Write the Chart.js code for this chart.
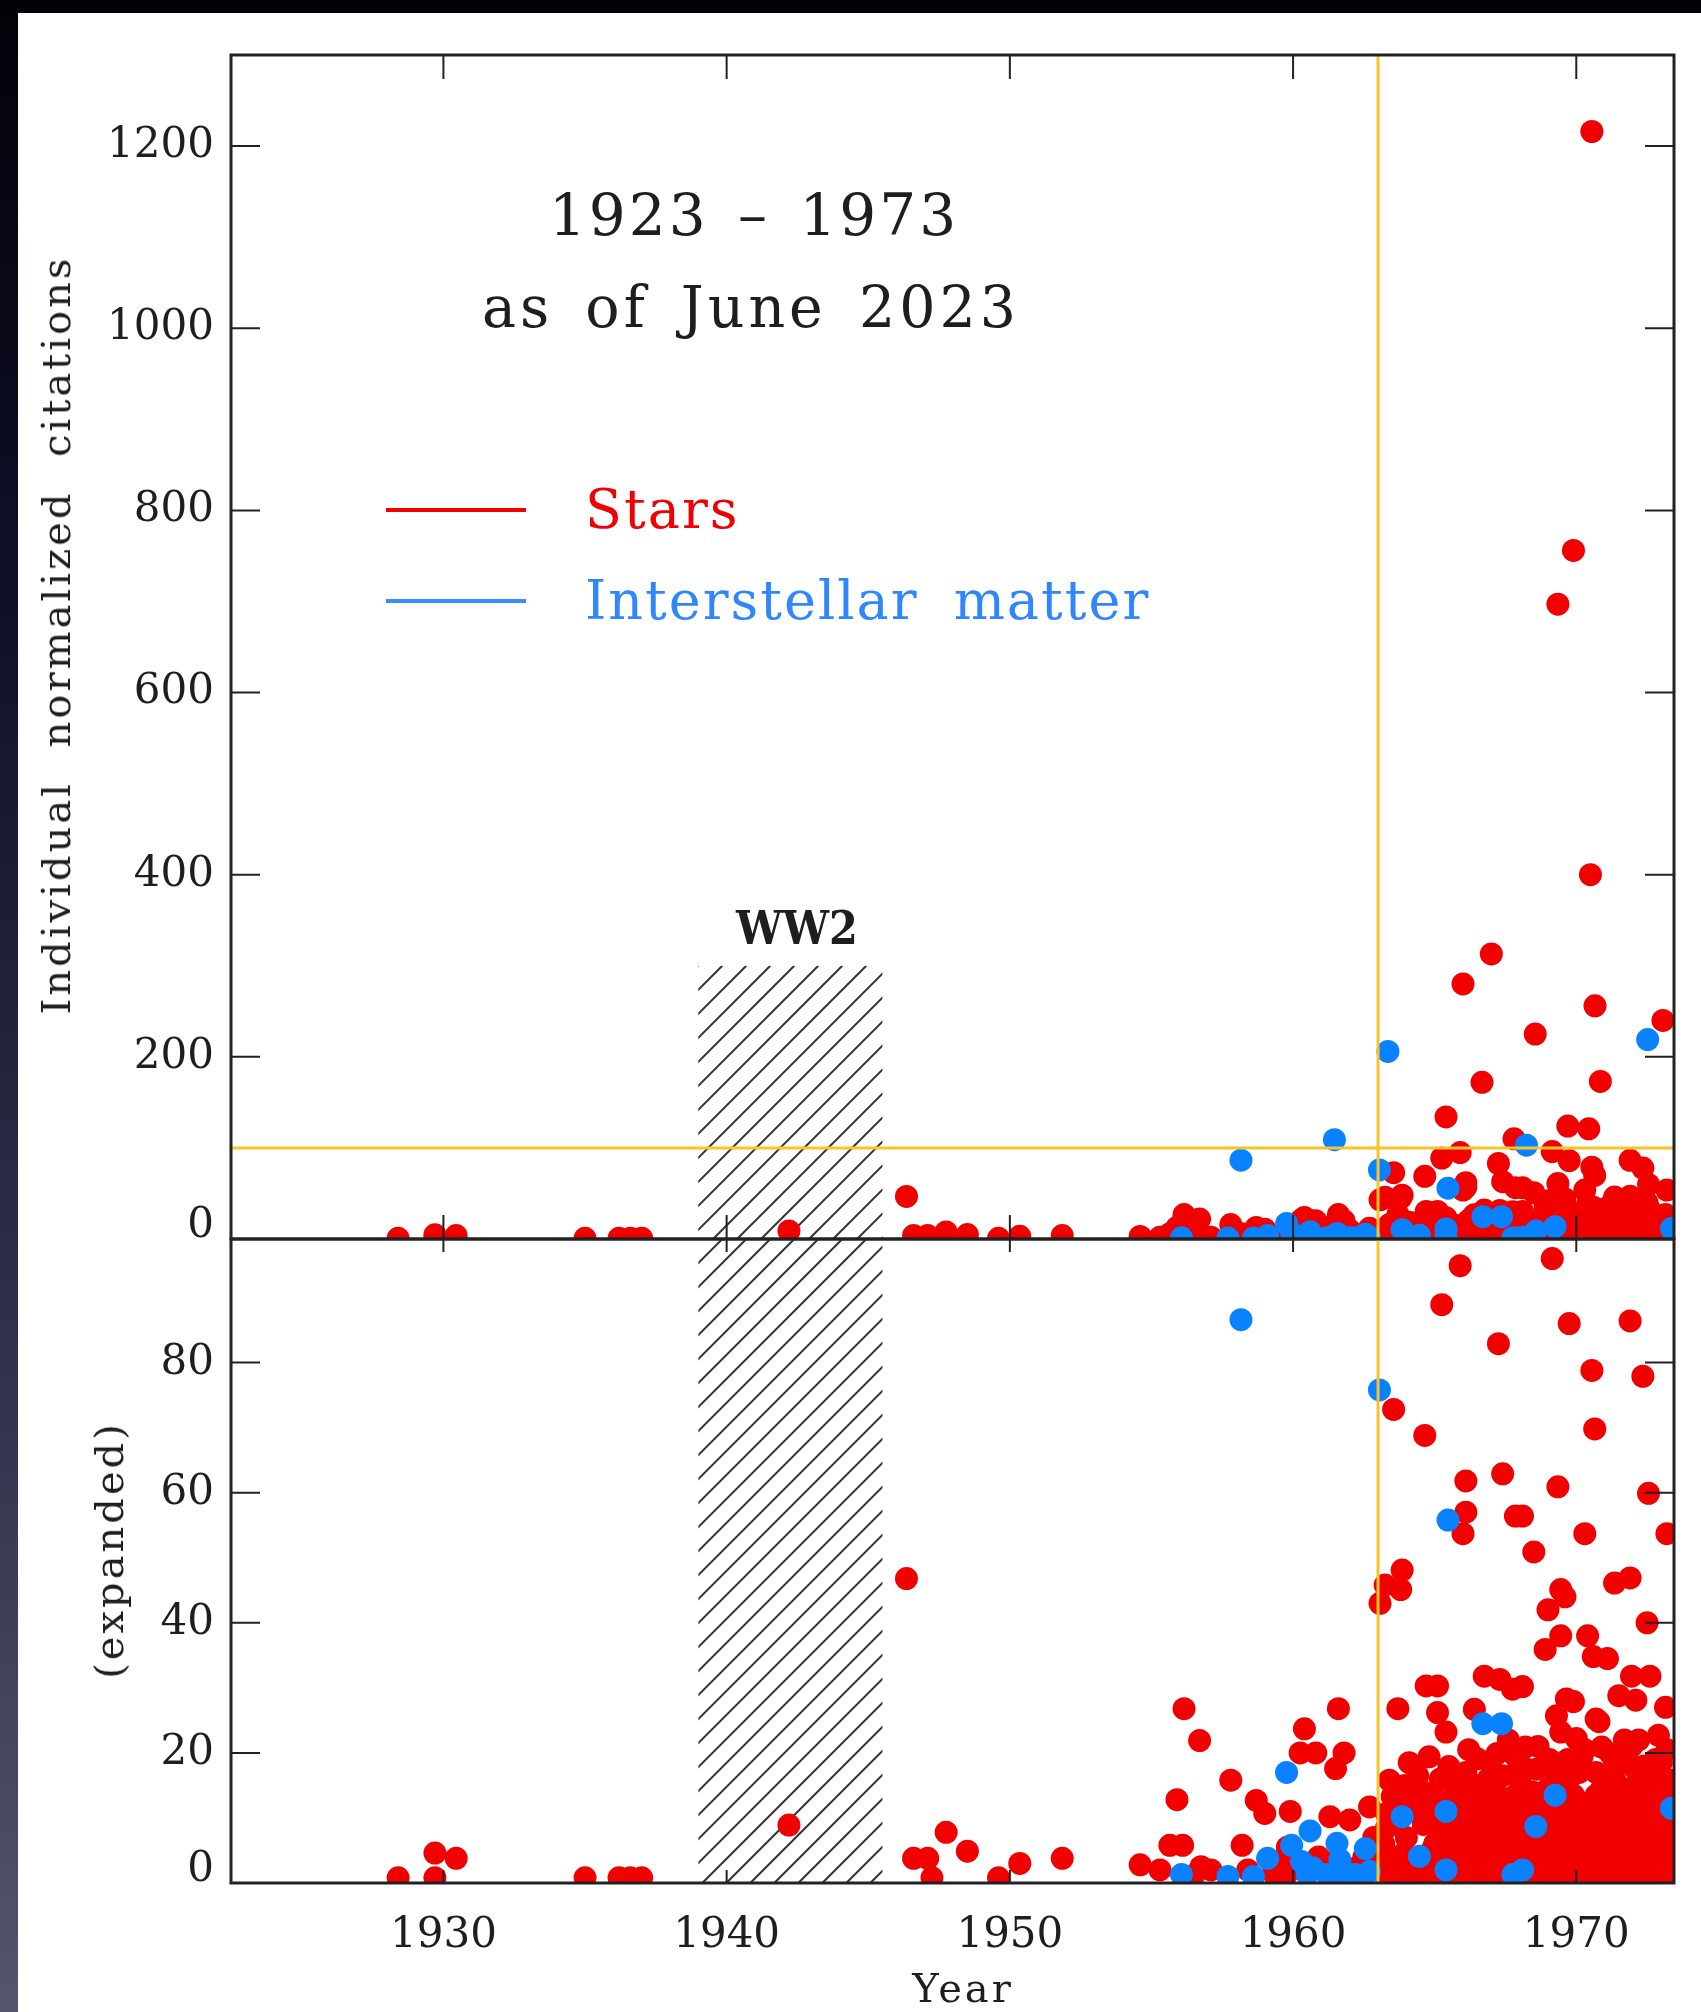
<!DOCTYPE html>
<html>
<head>
<meta charset="utf-8">
<title>Individual normalized citations, 1923 - 1973</title>
<script src="https://cdn.jsdelivr.net/npm/chart.js@4.4.0/dist/chart.umd.min.js"></script>
<style>
  html, body { margin: 0; padding: 0; }
  body {
    width: 1701px; height: 2012px; overflow: hidden; position: relative;
    background: linear-gradient(to bottom, #020208 0%, #10102a 30%, #33334f 70%, #55556c 100%);
    font-family: "DejaVu Serif", serif;
  }
  #sheet { position: absolute; left: 18px; top: 13px; right: 0; bottom: 0; background: #fff; }
  canvas { position: absolute; left: 0; }
  #topChart { top: 0; }
  #bottomChart { top: 1190px; }
  .txt { position: absolute; white-space: nowrap; line-height: 1; color: #1e1e1e; }
  .mid { transform: translate(-50%, -50%); }
  .rot { transform: translate(-50%, -50%) rotate(-90deg); }
  .key { position: absolute; height: 4px; width: 140px; left: 386px; }
</style>
</head>
<body>
<div id="sheet"></div>
<canvas id="topChart" width="1701" height="1260"></canvas>
<canvas id="bottomChart" width="1701" height="822"></canvas>

<div class="txt mid" style="left:754px; top:215px; font-size:58px; letter-spacing:3px; word-spacing:8px;">1923 – 1973</div>
<div class="txt mid" style="left:751px; top:307px; font-size:57px; letter-spacing:4px; word-spacing:10px;">as of June 2023</div>

<div class="key" style="top:508px; background:#f00000;"></div>
<div class="key" style="top:599px; background:#3b8dff;"></div>
<div class="txt" style="left:585px; top:510px; transform:translateY(-50%); font-size:54px; letter-spacing:2px; color:#f00000;">Stars</div>
<div class="txt" style="left:585px; top:601px; transform:translateY(-50%); font-size:54px; letter-spacing:2px; word-spacing:16px; color:#2f86ff;">Interstellar matter</div>

<div class="txt mid" style="left:797px; top:928px; font-size:46px; font-weight:bold; font-stretch:condensed;">WW2</div>

<div class="txt rot" style="left:56px; top:635px; font-size:40px; letter-spacing:3px; word-spacing:18px;">Individual normalized citations</div>
<div class="txt rot" style="left:109px; top:1550px; font-size:40px; letter-spacing:3px;">(expanded)</div>
<div class="txt mid" style="left:963px; top:1988px; font-size:40px; letter-spacing:3px;">Year</div>

<script>
// axis ranges and ticks
const yearMin = 1922.5;
const yearMax = 1973.45;
const yearTicks = [1930, 1940, 1950, 1960, 1970];
const topMax = 1300;
const topTicks = [0, 200, 400, 600, 800, 1000, 1200];
const bottomMax = 99;
const bottomTicks = [0, 20, 40, 60, 80];

// marked years and levels
const ww2Years = [1939.0, 1945.5];
const ww2TopLevel = 300;
const markYear = 1963;
const markLevel = 100;

const starsColor = "#f20000";
const ismColor = "#0a82ff";
const markColor = "#f7c42a";

// [year, normalized citations] per paper
const starsPoints = [
  [1928.4, 0.8], [1929.7, 0.8], [1929.7, 4.6], [1930.45, 3.8], [1935.0, 0.8],
  [1936.2, 0.8], [1936.6, 0.8], [1937.0, 0.8], [1942.2, 8.9],
  [1946.35, 46.8], [1946.6, 3.8], [1947.1, 3.8], [1947.25, 0.8], [1947.75, 7.8],
  [1948.5, 4.9], [1949.6, 0.8], [1950.35, 3.0], [1951.85, 3.8],
  [1954.6, 2.8], [1955.3, 2.0], [1955.65, 5.8], [1955.9, 12.8], [1956.1, 5.8],
  [1956.15, 26.8], [1956.5, 1.2], [1956.7, 21.9], [1956.75, 2.5], [1957.1, 2.0],
  [1957.8, 15.8], [1958.2, 5.8], [1958.4, 2.0], [1958.7, 12.7], [1959.0, 10.7],
  [1959.3, 1.5], [1959.6, 3.5], [1959.8, 5.5], [1959.8, 1.5], [1959.9, 11.0],
  [1960.25, 20.0], [1960.4, 23.7], [1960.4, 2.5], [1960.8, 20.0], [1960.9, 4.0],
  [1961.25, 1.5], [1961.3, 10.2], [1961.3, 3.0], [1961.5, 17.6], [1961.6, 26.8],
  [1961.8, 20.0], [1961.9, 2.0], [1962.0, 9.7], [1962.3, 2.5], [1962.5, 4.0],
  [1962.7, 11.7], [1962.85, 7.0], [1962.9, 3.0], [1963.0, 5.0], [1963.3, 8.5],
  [1963.07, 43.0], [1963.25, 45.8], [1963.8, 45.1], [1963.85, 48.1], [1963.55, 72.8],
  [1963.7, 26.8], [1963.4, 15.8], [1963.5, 13.3], [1963.3, 10.7], [1963.65, 9.0],
  [1963.2, 6.0], [1963.5, 3.5], [1963.3, 0.8], [1963.9, 1.0], [1964.0, 7.0],
  [1964.2, 12.5], [1964.4, 16.5], [1964.1, 18.5], [1963.6, 1.8], [1964.1, 3.0],
  [1964.5, 0.5], [1963.9, 4.5], [1963.75, 12.5], [1964.5, 10.5],
  [1963.95, 15.0], [1964.75, 12.0],
  [1964.65, 68.8], [1964.7, 30.3], [1965.1, 30.3], [1965.1, 26.2], [1965.4, 23.2],
  [1964.6, 14.0], [1964.8, 19.4], [1964.6, 9.0], [1964.9, 5.0], [1964.7, 1.5],
  [1964.3, 1.0],
  [1965.25, 88.9], [1965.4, 134], [1965.2, 16.0], [1965.1, 11.5], [1965.3, 8.0],
  [1965.2, 3.0], [1965.5, 17.9], [1965.6, 13.0], [1965.7, 6.5], [1965.6, 0.8],
  [1965.9, 94.9], [1966.0, 280], [1966.1, 61.8], [1966.1, 57.0], [1966.0, 53.7],
  [1966.0, 10.0], [1966.1, 4.0], [1966.0, 14.5], [1966.2, 20.5], [1966.4, 26.7],
  [1966.5, 19.1], [1966.4, 8.0], [1966.5, 1.5], [1966.6, 12.0], [1966.67, 172],
  [1966.75, 31.8], [1966.8, 5.0], [1966.9, 16.0],
  [1967.0, 313], [1967.0, 9.5], [1967.2, 19.9], [1967.25, 82.9], [1967.3, 31.3],
  [1967.4, 62.9], [1967.2, 2.0], [1967.4, 13.0], [1967.5, 6.5], [1967.6, 22.0],
  [1967.75, 29.8], [1967.8, 110], [1967.8, 10.0], [1967.85, 56.4], [1967.9, 17.0],
  [1968.0, 3.0], [1968.1, 56.4], [1968.1, 30.2], [1968.2, 20.9], [1968.2, 13.5],
  [1968.3, 7.5], [1968.4, 0.8],
  [1968.5, 50.9], [1968.55, 225], [1968.5, 11.0], [1968.6, 17.5], [1968.7, 4.5],
  [1968.9, 35.9], [1968.9, 9.0], [1969.0, 42.0], [1969.0, 14.5], [1969.15, 96.0],
  [1969.3, 25.7], [1969.3, 16.6], [1969.35, 697], [1969.35, 60.9], [1969.45, 45.1],
  [1969.45, 38.0], [1969.45, 23.2], [1969.6, 44.0], [1969.65, 28.3], [1969.5, 2.0],
  [1969.5, 11.0], [1969.6, 6.0], [1969.7, 124], [1969.75, 86.0], [1969.7, 19.0],
  [1969.9, 756], [1969.9, 27.9], [1969.9, 13.5], [1970.0, 22.2], [1970.0, 4.0],
  [1970.1, 9.5], [1970.2, 19.4], [1970.3, 53.7], [1970.4, 38.0],
  [1970.44, 121], [1970.5, 400], [1970.55, 1216], [1970.55, 78.8], [1970.6, 34.8],
  [1970.66, 256], [1970.65, 69.8], [1970.7, 25.2], [1970.5, 1.0], [1970.6, 7.0],
  [1970.8, 24.8], [1970.8, 12.0], [1970.85, 173], [1970.9, 20.9],
  [1971.0, 4.5], [1971.1, 34.5], [1971.2, 19.9], [1971.2, 10.0], [1971.35, 46.1],
  [1971.5, 28.8], [1971.4, 15.5], [1971.5, 1.5], [1971.6, 7.0], [1971.7, 22.0],
  [1971.9, 86.4], [1971.9, 46.9], [1971.95, 31.8], [1972.0, 17.9], [1972.0, 11.5],
  [1972.1, 28.1], [1972.1, 4.0], [1972.2, 22.0], [1972.35, 77.9], [1972.5, 40.0],
  [1972.55, 59.9], [1972.4, 14.0], [1972.5, 8.0], [1972.6, 31.8], [1972.6, 1.0],
  [1972.85, 16.3], [1972.9, 22.7], [1972.9, 11.0], [1973.0, 5.0], [1973.06, 240],
  [1973.2, 53.7], [1973.15, 27.0], [1973.3, 15.8], [1973.3, 9.0], [1973.35, 2.0],
  // the crowded band of low counts after 1964
  [1965.0, 0.6], [1965.0, 2.8], [1965.0, 6.0], [1965.0, 9.5], [1965.0, 13.0],
  [1965.45, 1.2], [1965.45, 4.5], [1965.45, 7.8],
  [1965.9, 0.5], [1965.9, 3.2], [1965.9, 6.0], [1965.9, 8.8], [1965.9, 12.0],
  [1966.3, 1.0], [1966.3, 4.0], [1966.3, 6.8], [1966.3, 10.5], [1966.3, 14.0],
  [1966.75, 0.6], [1966.75, 2.8], [1966.75, 7.5], [1966.75, 9.8], [1966.75, 13.0],
  [1967.15, 1.5], [1967.15, 4.5], [1967.15, 6.0], [1967.15, 11.0], [1967.15, 15.5],
  [1967.6, 0.8], [1967.6, 3.5], [1967.6, 8.0], [1967.6, 11.5],
  [1968.05, 5.5], [1968.05, 9.0], [1968.05, 12.0], [1968.05, 15.0],
  [1968.45, 2.8], [1968.45, 6.0], [1968.45, 9.5], [1968.45, 14.0],
  [1968.85, 1.5], [1968.85, 4.2], [1968.85, 7.0], [1968.85, 12.0], [1968.85, 18.0],
  [1969.25, 0.8], [1969.25, 3.5], [1969.25, 7.8], [1969.25, 9.5],
  [1969.7, 1.2], [1969.7, 4.5], [1969.7, 8.5], [1969.7, 11.0], [1969.7, 15.5],
  [1970.1, 0.6], [1970.1, 2.5], [1970.1, 6.5], [1970.1, 12.5], [1970.1, 17.0],
  [1970.5, 1.5], [1970.5, 4.5], [1970.5, 9.0], [1970.5, 11.0],
  [1970.9, 0.8], [1970.9, 3.0], [1970.9, 6.0], [1970.9, 9.5], [1970.9, 14.5],
  [1971.3, 1.0], [1971.3, 4.0], [1971.3, 7.0], [1971.3, 12.5], [1971.3, 17.5],
  [1971.75, 0.6], [1971.75, 3.2], [1971.75, 5.5], [1971.75, 9.0], [1971.75, 13.5],
  [1972.2, 1.2], [1972.2, 6.5], [1972.2, 9.5], [1972.2, 12.5], [1972.2, 16.0],
  [1972.6, 3.5], [1972.6, 5.5], [1972.6, 10.5], [1972.6, 13.5],
  [1973.0, 1.5], [1973.0, 7.5], [1973.0, 9.5], [1973.0, 13.0], [1973.0, 18.5],
  [1973.4, 0.5], [1973.4, 4.0], [1973.4, 6.5], [1973.4, 11.5], [1973.4, 15.0],
  [1965.2, 2.0], [1965.2, 5.2], [1965.2, 8.5], [1965.2, 12.0],
  [1965.7, 2.5], [1965.7, 9.8], [1965.7, 15.0],
  [1966.1, 1.8], [1966.1, 5.5], [1966.1, 8.2], [1966.1, 12.5], [1966.1, 17.0],
  [1966.55, 3.5], [1966.55, 6.0], [1966.55, 10.0], [1966.55, 15.0],
  [1966.95, 2.2], [1966.95, 7.0], [1966.95, 12.5], [1966.95, 18.5],
  [1967.4, 1.0], [1967.4, 5.0], [1967.4, 9.0], [1967.4, 16.5],
  [1967.85, 2.0], [1967.85, 5.8], [1967.85, 13.5], [1967.85, 19.5],
  [1968.25, 1.5], [1968.25, 4.5], [1968.25, 10.5], [1968.25, 17.5],
  [1968.65, 0.5], [1968.65, 6.5], [1968.65, 12.0], [1968.65, 21.0],
  [1969.05, 3.0], [1969.05, 5.5], [1969.05, 10.0], [1969.05, 19.0],
  [1969.5, 4.0], [1969.5, 8.0], [1969.5, 13.5], [1969.5, 17.0],
  [1969.9, 0.8], [1969.9, 6.0], [1969.9, 10.5], [1969.9, 17.5],
  [1970.3, 1.5], [1970.3, 4.5], [1970.3, 11.0], [1970.3, 20.5],
  [1970.7, 2.5], [1970.7, 5.5], [1970.7, 13.5], [1970.7, 17.0],
  [1971.1, 1.5], [1971.1, 7.5], [1971.1, 12.0], [1971.1, 16.0],
  [1971.55, 2.5], [1971.55, 5.0], [1971.55, 10.0], [1971.55, 19.5],
  [1971.95, 1.0], [1971.95, 7.5], [1971.95, 14.5], [1971.95, 21.0],
  [1972.4, 2.5], [1972.4, 5.0], [1972.4, 10.0], [1972.4, 18.0],
  [1972.8, 0.5], [1972.8, 7.0], [1972.8, 12.0], [1972.8, 19.0],
  [1973.2, 3.0], [1973.2, 6.0], [1973.2, 11.0], [1973.2, 20.5],
];

const ismPoints = [
  [1956.06, 1.3], [1957.7, 1.0], [1958.16, 86.6], [1958.6, 1.0], [1959.1, 3.8],
  [1959.77, 17.0], [1959.95, 5.8], [1960.3, 3.3], [1960.5, 1.3], [1960.6, 8.0],
  [1960.7, 2.3], [1961.2, 1.3], [1961.46, 109], [1961.55, 6.1], [1961.65, 3.6],
  [1961.6, 1.3], [1962.0, 1.3], [1962.2, 1.3], [1962.55, 5.3], [1962.7, 1.8],
  [1963.05, 75.8], [1963.35, 206], [1963.85, 10.2], [1964.46, 4.1], [1965.4, 11.0],
  [1965.4, 2.0], [1965.47, 55.8], [1966.7, 24.5], [1967.36, 24.5], [1967.76, 1.3],
  [1968.1, 2.0], [1968.24, 103], [1968.57, 8.7], [1969.25, 13.5], [1972.52, 219],
  [1973.36, 11.5],
];

Chart.defaults.font.family = '"DejaVu Serif", serif';
Chart.defaults.color = "#1e1e1e";

const toXY = (pts) => pts.map(([x, y]) => ({ x: x, y: y }));

// lower order is painted last, so the blue papers sit on top of the red ones
function makeDatasets() {
  return [
    { label: "Stars", data: toXY(starsPoints), backgroundColor: starsColor, order: 2,
      pointRadius: 11.5, pointHoverRadius: 11.5, borderWidth: 0, clip: 0 },
    { label: "Interstellar matter", data: toXY(ismPoints), backgroundColor: ismColor, order: 1,
      pointRadius: 11.5, pointHoverRadius: 11.5, borderWidth: 0, clip: 0 },
  ];
}

// hatch, yellow marks, frame and inward ticks
function makeDecor(opts) {
  return {
    id: "decor",
    beforeDatasetsDraw(chart) {
      const { ctx, scales: { x, y } } = chart;
      const x0 = x.getPixelForValue(ww2Years[0]);
      const x1 = x.getPixelForValue(ww2Years[1]);
      const yTop = y.getPixelForValue(Math.min(opts.hatchTop, y.max));
      const yBot = y.getPixelForValue(0);
      const h = yBot - yTop;
      ctx.save();
      ctx.beginPath();
      ctx.rect(x0, yTop, x1 - x0, h);
      ctx.clip();
      ctx.strokeStyle = "#333";
      ctx.lineWidth = 2;
      ctx.beginPath();
      for (let k = -h - 24; k < x1 - x0 + 24; k += 24) {
        ctx.moveTo(x0 + k, yBot);
        ctx.lineTo(x0 + k + h, yTop);
      }
      ctx.stroke();
      ctx.restore();
    },
    afterDatasetsDraw(chart) {
      const { ctx, chartArea: a, scales: { x, y } } = chart;
      ctx.save();
      ctx.strokeStyle = markColor;
      ctx.lineWidth = 3;
      ctx.beginPath();
      const mx = x.getPixelForValue(markYear);
      ctx.moveTo(mx, a.top);
      ctx.lineTo(mx, a.bottom);
      if (opts.levelLine) {
        const my = y.getPixelForValue(markLevel);
        ctx.moveTo(a.left, my);
        ctx.lineTo(a.right, my);
      }
      ctx.stroke();
      ctx.restore();
    },
    afterDraw(chart) {
      const { ctx, chartArea: a, scales: { x, y } } = chart;
      ctx.save();
      ctx.strokeStyle = "#222";
      ctx.lineWidth = 2;
      ctx.beginPath();
      yearTicks.forEach((v) => {
        const px = x.getPixelForValue(v);
        ctx.moveTo(px, a.top);
        ctx.lineTo(px, a.top + opts.xTickLen);
        ctx.moveTo(px, a.bottom);
        ctx.lineTo(px, a.bottom - opts.xTickLen);
      });
      y.ticks.forEach((t) => {
        const py = y.getPixelForValue(t.value);
        ctx.moveTo(a.left, py);
        ctx.lineTo(a.left + 29, py);
        ctx.moveTo(a.right, py);
        ctx.lineTo(a.right - 29, py);
      });
      ctx.stroke();
      ctx.lineWidth = 3;
      ctx.strokeRect(a.left, a.top, a.right - a.left, a.bottom - a.top);
      ctx.restore();
    },
  };
}

// zero label sits a little above its tick
const yLabel = (value) => (value === 0 ? ["0", ""] : String(value));
const fitY = (s) => { s.width = 231; s.paddingTop = 0; s.paddingBottom = 0; };
const noPadX = (s) => { s.paddingLeft = 0; s.paddingRight = 0; };

const topChart = new Chart(document.getElementById("topChart"), {
  type: "scatter",
  data: { datasets: makeDatasets() },
  options: {
    responsive: false,
    animation: false,
    events: [],
    layout: { padding: { left: 0, right: 27, top: 55, bottom: 0 } },
    plugins: { legend: { display: false }, tooltip: { enabled: false } },
    scales: {
      x: {
        type: "linear", min: yearMin, max: yearMax,
        ticks: { display: false },
        grid: { display: false, drawTicks: false },
        border: { display: false },
        afterBuildTicks: (s) => { s.ticks = yearTicks.map((v) => ({ value: v })); },
        afterFit: (s) => { s.height = 21; noPadX(s); },
      },
      y: {
        min: 0, max: topMax,
        ticks: { padding: 17, color: "#1e1e1e", font: { size: 42, lineHeight: 0.6 }, callback: yLabel },
        grid: { display: false, drawTicks: false },
        border: { display: false },
        afterBuildTicks: (s) => { s.ticks = topTicks.map((v) => ({ value: v })); },
        afterFit: fitY,
      },
    },
  },
  plugins: [makeDecor({ xTickLen: 24, hatchTop: ww2TopLevel, levelLine: true })],
});

const bottomChart = new Chart(document.getElementById("bottomChart"), {
  type: "scatter",
  data: { datasets: makeDatasets() },
  options: {
    responsive: false,
    animation: false,
    events: [],
    layout: { padding: { left: 0, right: 27, top: 49, bottom: 0 } },
    plugins: { legend: { display: false }, tooltip: { enabled: false } },
    scales: {
      x: {
        type: "linear", min: yearMin, max: yearMax,
        ticks: { padding: 28, color: "#1e1e1e", font: { size: 42, lineHeight: 1.2 }, maxRotation: 0,
                 callback: (v) => String(v) },
        grid: { display: false, drawTicks: false },
        border: { display: false },
        afterBuildTicks: (s) => { s.ticks = yearTicks.map((v) => ({ value: v })); },
        afterFit: (s) => { s.height = 129; noPadX(s); },
      },
      y: {
        min: 0, max: bottomMax,
        ticks: { padding: 17, color: "#1e1e1e", font: { size: 42, lineHeight: 0.6 }, callback: yLabel },
        grid: { display: false, drawTicks: false },
        border: { display: false },
        afterBuildTicks: (s) => { s.ticks = bottomTicks.map((v) => ({ value: v })); },
        afterFit: fitY,
      },
    },
  },
  plugins: [makeDecor({ xTickLen: 13, hatchTop: bottomMax, levelLine: false })],
});
</script>
</body>
</html>
